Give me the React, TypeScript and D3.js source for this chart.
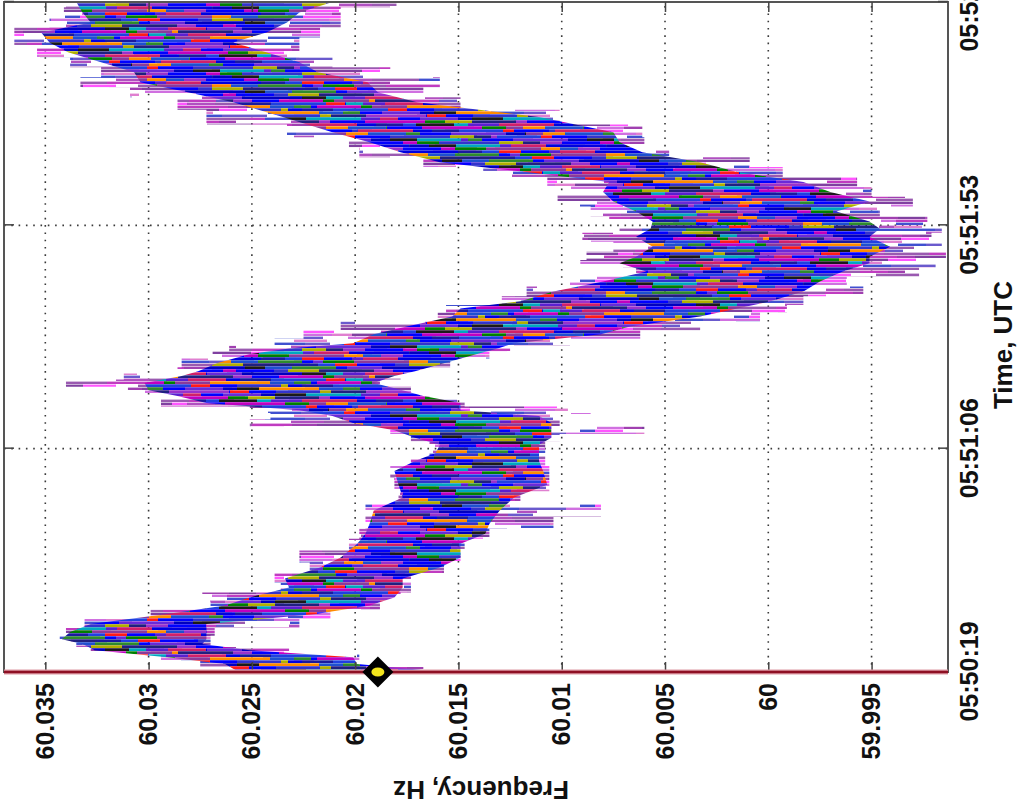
import React, { useEffect, useRef } from "react";
import * as d3 from "d3";

// seconds after 05:50:19 UTC
const sampleTime = [0, 0.4, 1.7, 3.1, 4.6, 5.9, 6.9, 8.4, 10.1, 12.2, 14.0, 15.7, 17.8, 19.7, 22.0, 24.1, 27.0, 29.1, 31.2, 34.0, 36.7, 39.4, 42.3, 44.4, 46.1, 47.8, 49.3, 50.9, 52.4, 53.9, 55.1, 56.6, 58.1, 59.3, 60.8, 62.3, 63.3, 65.0, 66.9, 68.1, 69.2, 71.1, 72.7, 74.8, 76.5, 78.0, 80.1, 82.2, 84.3, 86.0, 87.4, 89.5, 91.6, 93.3, 94.8, 96.9, 99.0, 101.0, 103.1, 105.2, 107.3, 109.4, 111.5, 113.6, 116.8, 119.9, 122.0, 124.1, 126.2, 128.3, 130.4, 132.5, 134.6, 136.7, 138.8, 141];

// dense part of the bundle of traces, Hz
const coreHigh = [60.0236, 60.0258, 60.0263, 60.0291, 60.0326, 60.0332, 60.0342, 60.0338, 60.0328, 60.0291, 60.0263, 60.0251, 60.0232, 60.0234, 60.0217, 60.0207, 60.0199, 60.0195, 60.0193, 60.0191, 60.0177, 60.0179, 60.0181, 60.0171, 60.0161, 60.0159, 60.0171, 60.0181, 60.0201, 60.0211, 60.0227, 60.0272, 60.0286, 60.03, 60.0302, 60.0284, 60.0276, 60.0267, 60.0251, 60.0232, 60.0201, 60.0191, 60.0175, 60.0153, 60.0149, 60.012, 60.0104, 60.008, 60.0059, 60.0072, 60.0064, 60.0056, 60.0064, 60.0057, 60.0056, 60.0064, 60.0075, 60.008, 60.0077, 60.0117, 60.0159, 60.0178, 60.0193, 60.0211, 60.0235, 60.0259, 60.0281, 60.0304, 60.0307, 60.0323, 60.0339, 60.0348, 60.0352, 60.0328, 60.0332, 60.0335];
const coreLow = [60.0169, 60.0167, 60.0199, 60.0201, 60.0251, 60.0274, 60.0272, 60.0272, 60.0272, 60.0219, 60.0193, 60.0181, 60.0177, 60.0177, 60.0159, 60.0149, 60.0149, 60.0137, 60.0135, 60.013, 60.0123, 60.0107, 60.0109, 60.0111, 60.0111, 60.0111, 60.0105, 60.0105, 60.0105, 60.0111, 60.0149, 60.0149, 60.0167, 60.0177, 60.0191, 60.0181, 60.0171, 60.0157, 60.0141, 60.0131, 60.0123, 60.0081, 60.0067, 60.0033, 60.0015, 59.9999, 59.9983, 59.9975, 59.9964, 59.9951, 59.9951, 59.9941, 59.9951, 59.9946, 59.9951, 59.9967, 59.9951, 59.997, 59.9983, 60.0015, 60.0033, 60.0061, 60.0072, 60.0075, 60.0111, 60.017, 60.0189, 60.0194, 60.0218, 60.0227, 60.0243, 60.0259, 60.0243, 60.0233, 60.0227, 60.0211];

// outermost strokes (the noisy traces), Hz
const bandHigh = [60.0251, 60.0258, 60.0275, 60.0294, 60.0328, 60.0335, 60.0343, 60.034, 60.0331, 60.0299, 60.027, 60.0274, 60.0236, 60.0239, 60.0222, 60.0227, 60.0203, 60.0198, 60.0195, 60.0195, 60.0179, 60.0181, 60.0183, 60.0173, 60.0164, 60.0164, 60.0173, 60.0183, 60.0251, 60.0241, 60.0251, 60.0294, 60.0294, 60.031, 60.034, 60.0312, 60.0286, 60.0284, 60.0269, 60.0261, 60.0239, 60.0225, 60.0207, 60.016, 60.0156, 60.0129, 60.0117, 60.0096, 60.0064, 60.0091, 60.0088, 60.0075, 60.009, 60.0072, 60.0077, 60.0086, 60.0102, 60.0102, 60.0107, 60.0138, 60.0167, 60.0198, 60.0203, 60.0233, 60.0272, 60.0286, 60.0309, 60.0333, 60.0323, 60.0338, 60.0354, 60.0365, 60.0365, 60.0348, 60.0341, 60.034];
const bandLow = [60.0166, 60.0167, 60.0198, 60.0198, 60.0232, 60.027, 60.027, 60.0268, 60.0227, 60.0212, 60.0188, 60.0178, 60.0173, 60.0173, 60.0157, 60.0149, 60.0147, 60.0135, 60.0104, 60.0081, 60.012, 60.0106, 60.0106, 60.0108, 60.0108, 60.0108, 60.0101, 60.006, 60.0101, 60.0086, 60.0097, 60.0147, 60.0164, 60.0173, 60.0188, 60.0178, 60.0169, 60.0154, 60.0135, 60.0125, 60.0096, 60.0062, 60.0033, 60.0004, 59.9991, 59.9983, 59.9954, 59.9962, 59.9927, 59.9919, 59.9914, 59.9916, 59.9921, 59.9916, 59.9923, 59.9946, 59.993, 59.995, 59.9957, 59.9993, 60.0009, 60.0048, 60.006, 60.0061, 60.0101, 60.0149, 60.0167, 60.0159, 60.0183, 60.0211, 60.0227, 60.0227, 60.0217, 60.0207, 60.0207, 60.018];

const freqTicks = [59.995, 60, 60.005, 60.01, 60.015, 60.02, 60.025, 60.03, 60.035];
const freqTickLabels = ["59.995", "60", "60.005", "60.01", "60.015", "60.02", "60.025", "60.03", "60.035"];
const timeTickSec = [0, 47, 94, 141];
const timeTickLabels = ["05:50:19", "05:51:06", "05:51:53", "05:52:40"];
const eventTime = 0;
const eventFreq = 60.0189;

// stroke colours of the overlaid traces
const corePalette = ["#0000ff", "#1a1a9e", "#0000ff", "#6a2ad8", "#2040e0", "#c000c0", "#0000c0", "#ff1a1a", "#008000", "#1a1a1a", "#0000ff", "#8b3a9a", "#00a8c0", "#3333cc", "#ff8c00", "#5a1fd0", "#b0b000", "#1e50d0", "#d0206a", "#202080", "#2e8b2e", "#0000e0", "#9932cc"];
const coreLens = [22, 38, 14, 31, 55, 19, 27, 44, 11, 35, 60, 24, 17];
const haloPalette = ["#c03cc0", "#6a5acd", "#d070e0", "#a040b0", null, "#e080d0", "#8040a0", "#b050c0", null, "#ff55ff", "#9a5ab0", "#4050d0", null];
const haloLens = [40, 25, 70, 18, 55, 33, 90, 28, 45];

const font = "'Liberation Sans', Arial, Helvetica, sans-serif";

// seamless stripe texture: one 3px column per time sample row
function addTexture(defs: any, id: string, w: number, h: number, palette: (string | null)[], lens: number[], bar: number) {
  const p = defs.append("pattern").attr("id", id)
    .attr("patternUnits", "userSpaceOnUse")
    .attr("width", w).attr("height", h);
  const cols = Math.round(w / 3);
  for (let c = 0; c < cols; c++) {
    let v = (c * 29) % h;
    let covered = 0;
    let k = (c * 5) % lens.length;
    let j = (c * 7) % palette.length;
    while (covered < h) {
      const len = Math.min(lens[k % lens.length], h - covered);
      const col = palette[j % palette.length];
      if (col) {
        const end = v + len;
        if (end <= h) {
          p.append("rect").attr("x", c * 3).attr("y", v).attr("width", bar).attr("height", len).attr("fill", col);
        } else {
          p.append("rect").attr("x", c * 3).attr("y", v).attr("width", bar).attr("height", h - v).attr("fill", col);
          p.append("rect").attr("x", c * 3).attr("y", 0).attr("width", bar).attr("height", end - h).attr("fill", col);
        }
      }
      v = (v + len) % h;
      covered += len;
      k++;
      j += 3;
    }
  }
}

export default function App() {
  const svgRef = useRef<SVGSVGElement>(null);

  useEffect(() => {
    const svg = d3.select(svgRef.current);
    svg.selectAll("*").remove();

    const timeLen = 670;   // plot height on screen (time runs upward)
    const freqLen = 944;   // plot width on screen (frequency falls to the right)

    const x = d3.scaleLinear().domain([0, 141]).range([0, timeLen]);
    const y = d3.scaleLinear().domain([59.9913, 60.037]).range([freqLen, 0]);

    const defs = svg.append("defs");
    addTexture(defs, "core", 69, 197, corePalette, coreLens, 2.7);
    addTexture(defs, "halo", 75, 223, haloPalette, haloLens, 2.4);

    // whole matlab figure turned a quarter turn
    const g = svg.append("g").attr("transform", "translate(4,672) rotate(-90)");

    // dotted grid
    g.append("g").selectAll("line").data(freqTicks).join("line")
      .attr("x1", 0).attr("x2", timeLen)
      .attr("y1", d => y(d)).attr("y2", d => y(d))
      .attr("stroke", "#3a3a3a").attr("stroke-width", 1.6).attr("stroke-dasharray", "1.6,5.7");
    g.append("g").selectAll("line").data(timeTickSec).join("line")
      .attr("x1", d => x(d)).attr("x2", d => x(d))
      .attr("y1", 0).attr("y2", freqLen)
      .attr("stroke", "#3a3a3a").attr("stroke-width", 1.6).attr("stroke-dasharray", "1.6,5.7");

    const idx = d3.range(sampleTime.length);
    const halo = d3.area<number>()
      .x(i => x(sampleTime[i]))
      .y0(i => y(bandLow[i]))
      .y1(i => y(bandHigh[i]))
      .curve(d3.curveStep);
    const core = d3.area<number>()
      .x(i => x(sampleTime[i]))
      .y0(i => y(coreLow[i]))
      .y1(i => y(coreHigh[i]));

    g.append("path").attr("d", halo(idx)).attr("fill", "url(#halo)");
    g.append("path").attr("d", core(idx)).attr("fill", "url(#core)");

    // frame
    g.append("rect").attr("x", 0).attr("y", 0).attr("width", timeLen).attr("height", freqLen)
      .attr("fill", "none").attr("stroke", "#555").attr("stroke-width", 2);

    const styleAxis = (sel: any) => {
      sel.select(".domain").remove();
      sel.selectAll(".tick line").attr("stroke", "#444").attr("stroke-width", 1.5);
      sel.selectAll("text").attr("fill", "#111").style("font-family", font)
        .style("font-weight", "bold").style("font-size", "25px");
    };

    g.append("g")
      .call(d3.axisLeft(y).tickValues(freqTicks).tickFormat((d, i) => freqTickLabels[i]).tickSize(-10).tickPadding(11))
      .call(styleAxis);
    g.append("g").attr("transform", `translate(${timeLen},0)`)
      .call(d3.axisRight(y).tickValues(freqTicks).tickFormat(() => "").tickSize(-10))
      .call(styleAxis);
    g.append("g").attr("transform", `translate(0,${freqLen})`)
      .call(d3.axisBottom(x).tickValues(timeTickSec).tickFormat((d, i) => timeTickLabels[i]).tickSize(-10).tickPadding(12))
      .call(styleAxis);
    g.append("g")
      .call(d3.axisTop(x).tickValues(timeTickSec).tickFormat(() => "").tickSize(-10))
      .call(styleAxis);

    // event marker line
    g.append("line").attr("x1", x(eventTime)).attr("x2", x(eventTime)).attr("y1", 0).attr("y2", freqLen)
      .attr("stroke", "#dd9aa4").attr("stroke-width", 5);
    g.append("line").attr("x1", x(eventTime)).attr("x2", x(eventTime)).attr("y1", 0).attr("y2", freqLen)
      .attr("stroke", "#8e1024").attr("stroke-width", 2.5);

    const mk = g.append("g").attr("transform", `translate(${x(eventTime)},${y(eventFreq)})`);
    mk.append("path").attr("d", d3.symbol(d3.symbolSquare, 480)()).attr("transform", "rotate(45)").attr("fill", "#000");
    mk.append("ellipse").attr("rx", 4.5).attr("ry", 6.5).attr("fill", "#f2e41c");

    g.append("text").attr("x", timeLen / 2 - 8).attr("y", freqLen + 64)
      .attr("text-anchor", "middle").style("font-family", font).style("font-weight", "bold")
      .style("font-size", "26px").attr("fill", "#111").text("Time, UTC");
    g.append("text").attr("transform", `translate(-109,${freqLen / 2 + 5}) rotate(-90)`)
      .attr("text-anchor", "middle").style("font-family", font).style("font-weight", "bold")
      .style("font-size", "26px").attr("fill", "#111").text("Frequency, Hz");
  }, []);

  return (
    <div style={{ position: "absolute", left: 0, top: 0 }}>
      <svg ref={svgRef} width={1017} height={808} style={{ display: "block", background: "#fff" }} />
    </div>
  );
}
